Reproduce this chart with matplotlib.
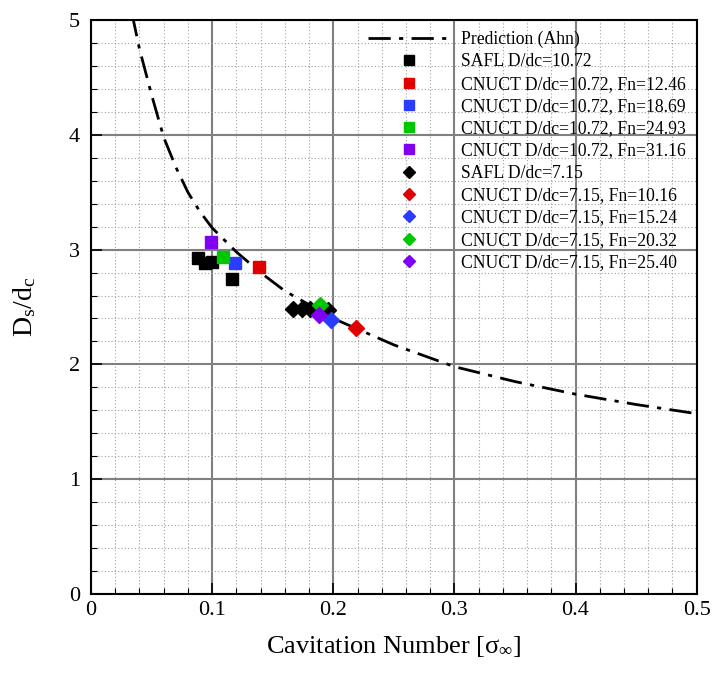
import numpy as np
import matplotlib
matplotlib.use("Agg")
import matplotlib.pyplot as plt
from matplotlib.ticker import MultipleLocator, FormatStrFormatter

plt.rcParams["font.family"] = ["Liberation Serif", "DejaVu Serif"]
plt.rcParams["mathtext.fontset"] = "custom"
plt.rcParams["mathtext.rm"] = "Liberation Serif"
plt.rcParams["mathtext.it"] = "Liberation Serif:italic"

# prediction curve (Ahn)
pred_x = [0.034, 0.04, 0.05, 0.06, 0.07, 0.08, 0.09, 0.10, 0.12, 0.14, 0.16,
          0.18, 0.20, 0.25, 0.30, 0.35, 0.40, 0.45, 0.50]
pred_y = [5.05, 4.75, 4.35, 3.98, 3.72, 3.50, 3.33, 3.19, 2.98, 2.80, 2.64,
          2.52, 2.40, 2.17, 1.98, 1.85, 1.74, 1.65, 1.57]

# D/dc = 10.72 (squares)
safl_a_x = [0.088, 0.094, 0.100, 0.116]
safl_a_y = [2.93, 2.88, 2.89, 2.74]
cn_a_labels = ["CNUCT D/dc=10.72, Fn=12.46", "CNUCT D/dc=10.72, Fn=18.69",
               "CNUCT D/dc=10.72, Fn=24.93", "CNUCT D/dc=10.72, Fn=31.16"]
cn_a_x = [0.139, 0.119, 0.109, 0.099]
cn_a_y = [2.85, 2.88, 2.94, 3.07]

# D/dc = 7.15 (diamonds)
safl_b_x = [0.167, 0.174, 0.181, 0.196]
safl_b_y = [2.48, 2.48, 2.48, 2.47]
cn_b_labels = ["CNUCT D/dc=7.15, Fn=10.16", "CNUCT D/dc=7.15, Fn=15.24",
               "CNUCT D/dc=7.15, Fn=20.32", "CNUCT D/dc=7.15, Fn=25.40"]
cn_b_x = [0.219, 0.198, 0.189, 0.188]
cn_b_y = [2.32, 2.39, 2.52, 2.43]

colors = ["#e00000", "#2a3cff", "#00c800", "#8000f0"]

fig = plt.figure(figsize=(7.28, 6.74), dpi=100)
ax = fig.add_axes([0.125, 0.119, 0.832, 0.851])

ax.plot(pred_x, pred_y, color="black", lw=2, dashes=(8, 3, 1.5, 3),
        label="Prediction (Ahn)", zorder=3)
ax.plot(safl_a_x, safl_a_y, "s", color="black", ms=9, mec="black",
        label="SAFL D/dc=10.72", zorder=4)
for lab, x, y, c in zip(cn_a_labels, cn_a_x, cn_a_y, colors):
    ax.plot([x], [y], "s", color=c, mec=c, ms=9, label=lab, zorder=4)
ax.plot(safl_b_x, safl_b_y, "D", color="black", ms=8, mec="black",
        label="SAFL D/dc=7.15", zorder=4)
for lab, x, y, c in zip(cn_b_labels, cn_b_x, cn_b_y, colors):
    ax.plot([x], [y], "D", color=c, mec=c, ms=8, label=lab, zorder=4)

ax.set_xlim(0, 0.5)
ax.set_ylim(0, 5)
ax.xaxis.set_major_locator(MultipleLocator(0.1))
ax.xaxis.set_minor_locator(MultipleLocator(0.02))
ax.yaxis.set_major_locator(MultipleLocator(1))
ax.yaxis.set_minor_locator(MultipleLocator(0.2))
ax.xaxis.set_major_formatter(FormatStrFormatter("%g"))
ax.yaxis.set_major_formatter(FormatStrFormatter("%g"))

ax.grid(which="major", color="#808080", lw=1.5, ls="-")
ax.grid(which="minor", color="#a0a0a0", lw=0.8, ls=(0, (1, 2)))
ax.set_axisbelow(True)
for s in ax.spines.values():
    s.set_linewidth(1.5)

ax.tick_params(which="major", direction="in", length=8, width=1.2,
               labelsize=16)
ax.tick_params(axis="x", which="major", pad=5)
ax.tick_params(axis="y", which="major", pad=8)
ax.tick_params(which="minor", direction="in", length=4, width=0.8)

ax.set_xlabel(r"Cavitation Number [$\mathregular{\sigma_\infty}$]",
              fontsize=19, labelpad=10)
ax.set_ylabel(r"$\mathregular{D_s/d_c}$", fontsize=20, labelpad=22)

ax.legend(loc="upper right", bbox_to_anchor=(1.0, 1.0), frameon=False,
          fontsize=12.7, handlelength=4.7, handletextpad=0.6,
          labelspacing=0.30, markerscale=0.75, borderaxespad=0.2)

fig.savefig("out.png", dpi=100)
